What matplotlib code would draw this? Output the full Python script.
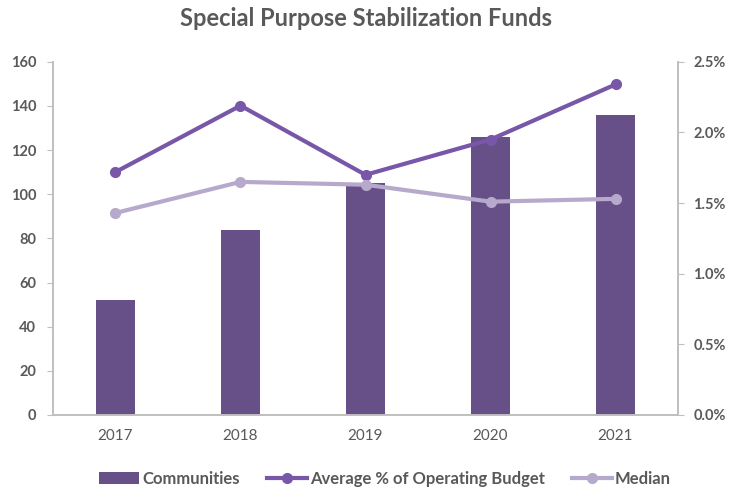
import numpy as np
import matplotlib.pyplot as plt
from matplotlib.ticker import FuncFormatter

plt.rcParams['font.family'] = ['Lato', 'DejaVu Sans']

years = ['2017', '2018', '2019', '2020', '2021']
communities = [52, 84, 105, 126, 136]
average_pct = [1.72, 2.19, 1.70, 1.95, 2.34]
median_pct = [1.43, 1.65, 1.63, 1.51, 1.53]

grey = '#595959'
x = np.arange(len(years))

fig = plt.figure(figsize=(7.31, 4.91), dpi=100)
ax = fig.add_axes([0.0725, 0.155, 0.855, 0.719])
ax2 = ax.twinx()

b = ax.bar(x, communities, width=0.31, color='#674f87', label='Communities')
l1, = ax2.plot(x, average_pct, color='#7857a8', lw=3, marker='o', ms=7, label='Average % of Operating Budget')
l2, = ax2.plot(x, median_pct, color='#b6a9cb', lw=3, marker='o', ms=7, label='Median')

ax.set_xlim(-0.5, 4.5)
ax.set_ylim(0, 160)
ax.set_yticks(range(0, 161, 20))
ax2.set_ylim(0, 2.5)
ax2.set_yticks(np.arange(0, 2.51, 0.5))
ax2.yaxis.set_major_formatter(FuncFormatter(lambda v, p: f'{v:.1f}%'))
ax.set_xticks(x)
ax.set_xticklabels(years, fontsize=11, color=grey)

for a in (ax, ax2):
    a.spines['top'].set_visible(False)
    for s in ('left', 'right', 'bottom'):
        a.spines[s].set_color('#bfbfbf')
        a.spines[s].set_linewidth(1.2)
    a.tick_params(axis='y', colors='#bfbfbf', labelcolor=grey, labelsize=10.5, length=4)
    for t in a.get_yticklabels():
        t.set_fontweight('bold')
ax.tick_params(axis='x', length=0, pad=10)
ax.tick_params(axis='y', pad=8)
ax2.tick_params(axis='y', pad=7)

fig.suptitle('Special Purpose Stabilization Funds', x=0.5, y=0.985, fontsize=17,
             fontweight='bold', color=grey)

fig.legend(handles=[b, l1, l2], loc='lower center', bbox_to_anchor=(0.527, -0.022), ncol=3,
           frameon=False, handlelength=2.4, columnspacing=1.6, handletextpad=0.2,
           prop={'weight': 'bold', 'size': 12}, labelcolor=grey)

fig.savefig('out.png', dpi=100)
